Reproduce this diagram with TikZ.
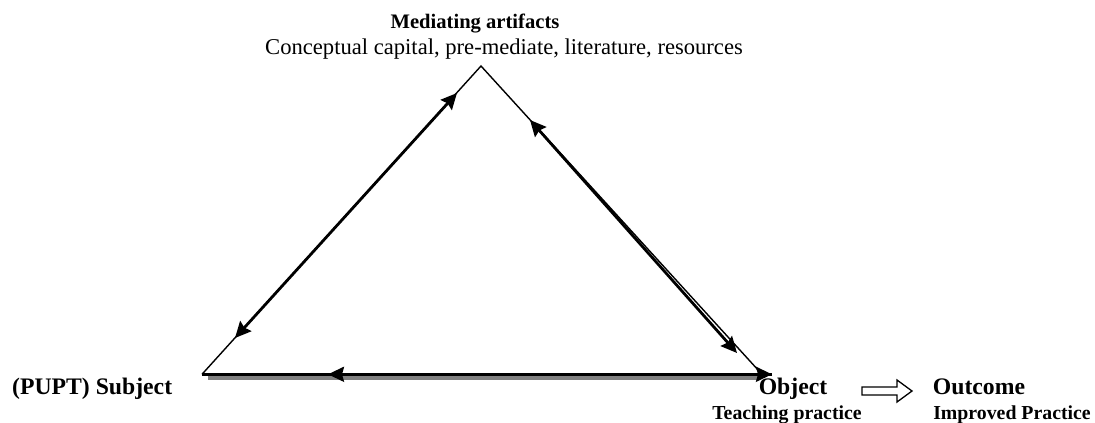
\documentclass[tikz,border=0pt]{standalone}
\usepackage{fontspec}
\setmainfont{Liberation Serif}
\usetikzlibrary{arrows.meta}
\tikzset{bighead/.tip={Stealth[length=16pt,width=15pt,inset=2pt]}}
\begin{document}
\begin{tikzpicture}[x=1pt,y=-1pt,
  side/.style={line width=1.4pt},
  link/.style={line width=2.8pt,{bighead}-{bighead}},
  tip/.style={line width=2.6pt,-{bighead}},
  lbl/.style={inner sep=0pt,anchor=base},
  big/.style={font=\fontsize{23.7}{26}\selectfont\bfseries},
  small/.style={font=\fontsize{19.8}{22}\selectfont\bfseries}]
\useasboundingbox (0,0) rectangle (1095,423);
% corners of the activity triangle
\coordinate (apex) at (481,66);
\coordinate (left) at (202,374.3);
\coordinate (right) at (762,374.3);
% labels
\node[lbl,font=\fontsize{20.6}{24}\selectfont\bfseries] (med) at (475,28) {Mediating artifacts};
\node[lbl,font=\fontsize{22.6}{26}\selectfont] (medsub) at (504,54) {Conceptual capital, pre-mediate, literature, resources};
\node[lbl,big,anchor=base west] (subj) at (12,394) {(PUPT) Subject};
\node[lbl,big] (obj) at (793,394) {Object};
\node[lbl,small] (objsub) at (787,419) {Teaching practice};
\node[lbl,big] (out) at (979,394) {Outcome};
\node[lbl,small] (outsub) at (1012,419) {Improved Practice};
% hollow arrow from object to outcome
\draw[line width=1.3pt,fill=white]
  (862,387) -- (897,387) -- (897,380) -- (912,391) -- (897,402)
  -- (897,395) -- (862,395) -- cycle;
% triangle sides
\draw[side] (left) -- (apex) -- (right);
% bottom side with its shadow
\coordinate (shL) at (208,377.4);
\coordinate (shR) at (758,377.4);
\draw[line width=5pt,gray] (shL) -- (shR);
\coordinate (bEnd) at (772,374.3);
\coordinate (bMid) at (328,374.3);
\draw[tip] (left) -- (bEnd);
\draw[tip] (bEnd) -- (bMid);
% double-headed links along the other two sides
\coordinate (lA) at (235,338);
\coordinate (lB) at (457,93);
\draw[link] (lA) -- (lB);
\coordinate (rA) at (530,120);
\coordinate (rB) at (737,353);
\draw[link] (rA) -- (rB);
\end{tikzpicture}
\end{document}
